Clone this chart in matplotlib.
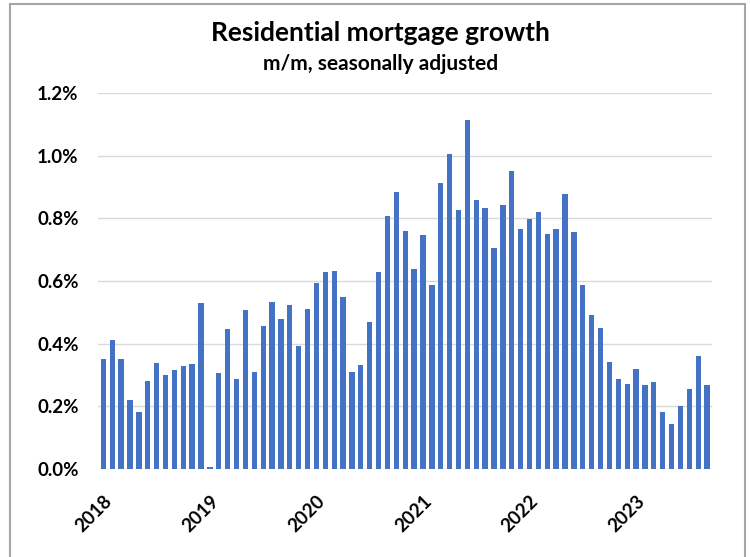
import matplotlib
matplotlib.use("Agg")
import matplotlib.pyplot as plt
from matplotlib.patches import Rectangle
from matplotlib.transforms import ScaledTranslation

# Monthly residential mortgage growth, % m/m s.a., Jan 2018 - Sep 2023
growth = [
    0.352, 0.412, 0.352, 0.220, 0.182, 0.281, 0.337, 0.299, 0.316, 0.329, 0.334, 0.529,  # 2018
    0.005, 0.306, 0.448, 0.286, 0.506, 0.308, 0.457, 0.534, 0.480, 0.525, 0.392, 0.512,  # 2019
    0.595, 0.630, 0.633, 0.550, 0.310, 0.331, 0.469, 0.629, 0.806, 0.885, 0.759, 0.638,  # 2020
    0.747, 0.588, 0.914, 1.006, 0.826, 1.113, 0.860, 0.832, 0.705, 0.843, 0.951, 0.766,  # 2021
    0.798, 0.821, 0.750, 0.766, 0.878, 0.758, 0.587, 0.492, 0.449, 0.342, 0.286, 0.272,  # 2022
    0.320, 0.269, 0.277, 0.181, 0.145, 0.201, 0.255, 0.361, 0.269,                       # 2023
]
year_labels = ["2018", "2019", "2020", "2021", "2022", "2023"]
y_ticks = [0.0, 0.2, 0.4, 0.6, 0.8, 1.0, 1.2]

plt.rcParams['font.family'] = ['Lato', 'DejaVu Sans']

fig = plt.figure(figsize=(7.5, 5.57), dpi=100)
ax = fig.add_axes([0.1307, 0.158, 0.818, 0.675])

x = list(range(len(growth)))
ax.bar(x, growth, width=0.6, color="#4472C4", zorder=3)

ax.set_ylim(0, 1.2)
ax.set_xlim(-0.6, len(growth) - 0.5)
ax.set_yticks(y_ticks)
ax.set_yticklabels([f"{v:.1f}%" for v in y_ticks], fontsize=13.5, fontweight='bold')
ax.grid(axis='y', color="#d9d9d9", linewidth=1.0, zorder=0)
ax.grid(axis='x', visible=False)

tick_pos = [i * 12 for i in range(len(year_labels))]
ax.set_xticks(tick_pos)
ax.set_xticklabels(year_labels, rotation=45, ha='right', rotation_mode='anchor',
                   fontsize=13.5, fontweight='bold')
shift = ScaledTranslation(-0.09, 0, fig.dpi_scale_trans)
for lab in ax.get_xticklabels():
    lab.set_transform(lab.get_transform() + shift)
ax.tick_params(axis='both', length=0)
ax.tick_params(axis='y', pad=14)
ax.tick_params(axis='x', pad=17)
for s in ax.spines.values():
    s.set_visible(False)

fig.text(0.507, 0.941, "Residential mortgage growth", ha='center', va='center',
         fontsize=19, fontweight='bold')
fig.text(0.507, 0.885, "m/m, seasonally adjusted", ha='center', va='center',
         fontsize=15, fontweight='bold')

fig.patches.append(Rectangle((10 / 750, -0.02), 735 / 750, 1.02 - 4 / 557,
                             transform=fig.transFigure, fill=False,
                             edgecolor="#a6a6a6", linewidth=1.5))

fig.savefig("out.png", dpi=100)
